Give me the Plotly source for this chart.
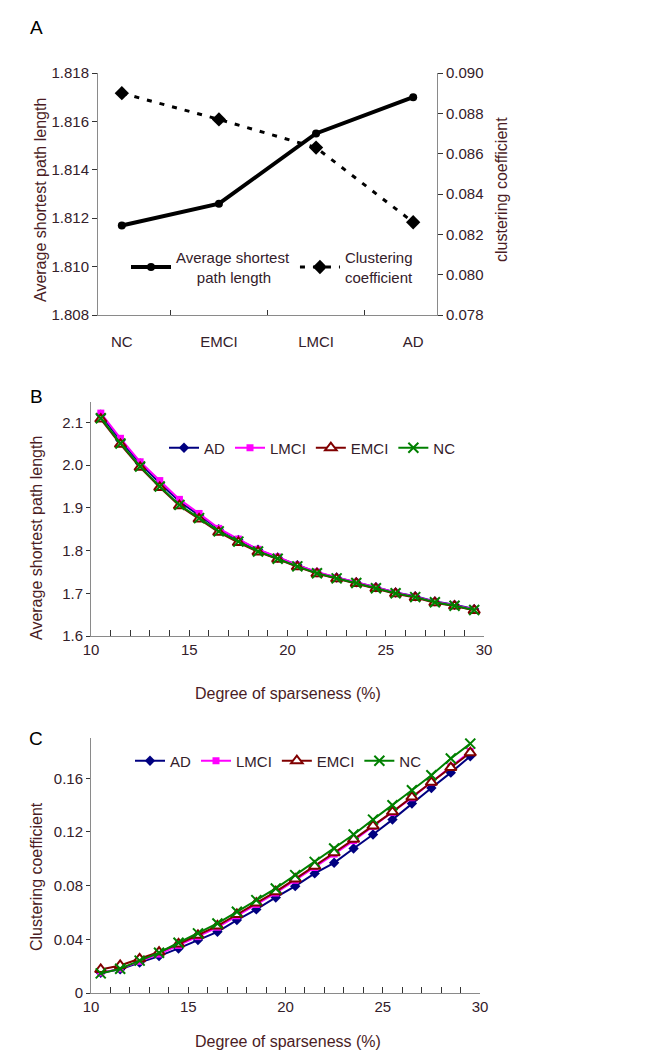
import plotly.graph_objects as go

# panel A: group means
groups = ["NC", "EMCI", "LMCI", "AD"]
asp_mean = [1.8117, 1.8126, 1.8155, 1.8170]
cc_mean = [0.0890, 0.0877, 0.0863, 0.0826]

# panels B and C: values over sparsity
sparsity = [10.5, 11.5, 12.5, 13.5, 14.5, 15.5, 16.5, 17.5, 18.5, 19.5,
            20.5, 21.5, 22.5, 23.5, 24.5, 25.5, 26.5, 27.5, 28.5, 29.5]

asp_ad = [2.118, 2.058, 2.004, 1.958, 1.915, 1.882, 1.850, 1.825, 1.802, 1.784,
          1.766, 1.749, 1.737, 1.726, 1.714, 1.702, 1.693, 1.681, 1.673, 1.663]
asp_lmci = [2.122, 2.063, 2.008, 1.964, 1.920, 1.887, 1.852, 1.827, 1.803, 1.785,
            1.766, 1.750, 1.737, 1.726, 1.714, 1.702, 1.692, 1.680, 1.672, 1.662]
asp_emci = [2.108, 2.049, 1.995, 1.948, 1.905, 1.874, 1.843, 1.819, 1.797, 1.780,
            1.762, 1.746, 1.734, 1.723, 1.711, 1.699, 1.690, 1.678, 1.670, 1.660]
asp_nc = [2.110, 2.051, 1.997, 1.950, 1.907, 1.876, 1.845, 1.821, 1.798, 1.781,
          1.763, 1.747, 1.735, 1.724, 1.712, 1.700, 1.691, 1.679, 1.671, 1.661]

cc_ad = [0.0151, 0.0176, 0.0226, 0.0275, 0.0332, 0.0394, 0.0456, 0.0543, 0.0623, 0.0712,
         0.0796, 0.0891, 0.0970, 0.1077, 0.1181, 0.1292, 0.1412, 0.1528, 0.1642, 0.1764]
cc_lmci = [0.0150, 0.0180, 0.0236, 0.0290, 0.0355, 0.0420, 0.0490, 0.0575, 0.0660, 0.0745,
           0.0840, 0.0935, 0.1035, 0.1135, 0.1240, 0.1345, 0.1455, 0.1570, 0.1685, 0.1800]
cc_emci = [0.0175, 0.0205, 0.0255, 0.0305, 0.0365, 0.0430, 0.0500, 0.0585, 0.0670, 0.0755,
           0.0850, 0.0945, 0.1045, 0.1145, 0.1245, 0.1350, 0.1460, 0.1570, 0.1680, 0.1790]
cc_nc = [0.0146, 0.0181, 0.0241, 0.0300, 0.0375, 0.0444, 0.0518, 0.0605, 0.0692, 0.0779,
         0.0878, 0.0977, 0.1077, 0.1181, 0.1292, 0.1399, 0.1511, 0.1622, 0.1747, 0.1858]

W, H = 655, 1059
FONT = "Liberation Sans, Arial, sans-serif"
TICK_COL = "#33202a"
TITLE_COL = "#4a1c24"
AXIS_COL = "#8a8a8a"
FRAME_COL = "#4b0a0a"


def px(x):
    return x / W


def py(y):
    return 1 - y / H


fig = go.Figure()

# ---- panel A
fig.add_trace(go.Scatter(
    x=groups, y=asp_mean, name="Average shortest<br>&nbsp;&nbsp;&nbsp;&nbsp;&nbsp;path length",
    mode="lines+markers", line=dict(color="black", width=4),
    marker=dict(symbol="circle", size=8, color="black"),
    xaxis="x", yaxis="y", legend="legend"))
fig.add_trace(go.Scatter(
    x=groups, y=cc_mean, name="Clustering<br>coefficient",
    mode="lines+markers", line=dict(color="black", width=3, dash="5px,8px"),
    marker=dict(symbol="diamond", size=11, color="black"),
    xaxis="x", yaxis="y2", legend="legend"))

# ---- panels B and C
series = [
    ("AD", asp_ad, cc_ad, dict(symbol="diamond", size=8, color="#000080"), "#000080"),
    ("LMCI", asp_lmci, cc_lmci, dict(symbol="square", size=7, color="#ff00ff"), "#ff00ff"),
    ("EMCI", asp_emci, cc_emci, dict(symbol="triangle-up", size=10, color="white",
                                     line=dict(color="#800000", width=2)), "#800000"),
    ("NC", asp_nc, cc_nc, dict(symbol="x-thin", size=10, color="#008000",
                               line=dict(color="#008000", width=2)), "#008000"),
]
for name, yb, yc, mk, col in series:
    fig.add_trace(go.Scatter(
        x=sparsity, y=yb, name=name, mode="lines+markers",
        line=dict(color=col, width=2), marker=mk,
        xaxis="x2", yaxis="y3", legend="legend2"))
    fig.add_trace(go.Scatter(
        x=sparsity, y=yc, name=name, mode="lines+markers",
        line=dict(color=col, width=2), marker=mk,
        xaxis="x3", yaxis="y4", legend="legend3"))

tickfont = dict(family=FONT, size=15, color=TICK_COL)
legfont = dict(family=FONT, size=15, color=TICK_COL)
# automargin off, otherwise the template shrinks the paper to fit tick labels
common = dict(showgrid=False, zeroline=False, showline=True, linecolor=AXIS_COL,
              linewidth=1, tickfont=tickfont, tickcolor="#333333", automargin=False)

# size comes from the 655x1059 div set in write_html below
fig.update_layout(
    margin=dict(l=0, r=0, t=0, b=0),
    paper_bgcolor=FRAME_COL, plot_bgcolor="white",
    font=dict(family=FONT, size=15, color=TICK_COL),
    xaxis=dict(domain=[px(98), px(437)], anchor="y", type="category",
               tickson="boundaries", ticks="inside", ticklen=5,
               ticklabelstandoff=13, **common),
    yaxis=dict(domain=[py(315), py(73)], anchor="x", range=[1.808, 1.818],
               dtick=0.002, tickformat=".3f", ticks="outside", ticklen=5, **common),
    yaxis2=dict(overlaying="y", anchor="x", side="right", range=[0.078, 0.090],
                dtick=0.002, tickformat=".3f", ticks="outside", ticklen=5, **common),
    xaxis2=dict(domain=[px(91), px(484)], anchor="y3", range=[10, 30], dtick=5,
                ticks="inside", ticklen=6,
                minor=dict(dtick=1, ticks="inside", ticklen=6, tickcolor="#333333"),
                **common),
    yaxis3=dict(domain=[py(636), py(402)], anchor="x2", range=[1.6, 2.148],
                dtick=0.1, tickformat=".1f", ticks="outside", ticklen=4, **common),
    xaxis3=dict(domain=[px(91), px(480)], anchor="y4", range=[10, 30], dtick=5,
                ticks="inside", ticklen=6,
                minor=dict(dtick=1, ticks="inside", ticklen=6, tickcolor="#333333"),
                **common),
    yaxis4=dict(domain=[py(993), py(738)], anchor="x3", range=[0, 0.19],
                tickvals=[0, 0.04, 0.08, 0.12, 0.16], ticks="outside", ticklen=4, **common),
    legend=dict(orientation="h", x=px(126), y=py(267), xanchor="left", yanchor="middle",
                bgcolor="rgba(0,0,0,0)", font=legfont, itemwidth=40),
    legend2=dict(orientation="h", x=px(164), y=py(448), xanchor="left", yanchor="middle",
                 bgcolor="rgba(0,0,0,0)", font=legfont),
    legend3=dict(orientation="h", x=px(130), y=py(761), xanchor="left", yanchor="middle",
                 bgcolor="rgba(0,0,0,0)", font=legfont),
)

title_font = dict(family=FONT, size=16, color=TITLE_COL)
annotations = [
    dict(text="A", x=px(36), y=py(28), font=dict(family=FONT, size=19, color="black")),
    dict(text="B", x=px(36), y=py(397), font=dict(family=FONT, size=19, color="black")),
    dict(text="C", x=px(36), y=py(738), font=dict(family=FONT, size=19, color="black")),
    dict(text="Average shortest path length", x=px(40), y=py(200), textangle=-90, font=title_font),
    dict(text="clustering coefficient", x=px(501), y=py(190), textangle=-90, font=title_font),
    dict(text="Average shortest path length", x=px(36), y=py(538), textangle=-90, font=title_font),
    dict(text="Degree of sparseness (%)", x=px(288), y=py(693), font=title_font),
    dict(text="Clustering coefficient", x=px(36), y=py(877), textangle=-90, font=title_font),
    dict(text="Degree of sparseness (%)", x=px(288), y=py(1041), font=title_font),
]
for a in annotations:
    fig.add_annotation(xref="paper", yref="paper", showarrow=False,
                       xanchor="center", yanchor="middle", **a)

# maroon paper with a white panel on top leaves a thin frame round the edge
fig.add_shape(type="rect", xref="paper", yref="paper",
              x0=px(3), y0=py(H - 3), x1=px(W - 3), y1=py(3),
              fillcolor="white", line=dict(width=0), layer="below")

# negative margin on the div cancels the page's default 8px body margin
fig.write_html("out.html", config={"displayModeBar": False},
               default_width=f"{W}px; margin:-8px", default_height=f"{H}px")
